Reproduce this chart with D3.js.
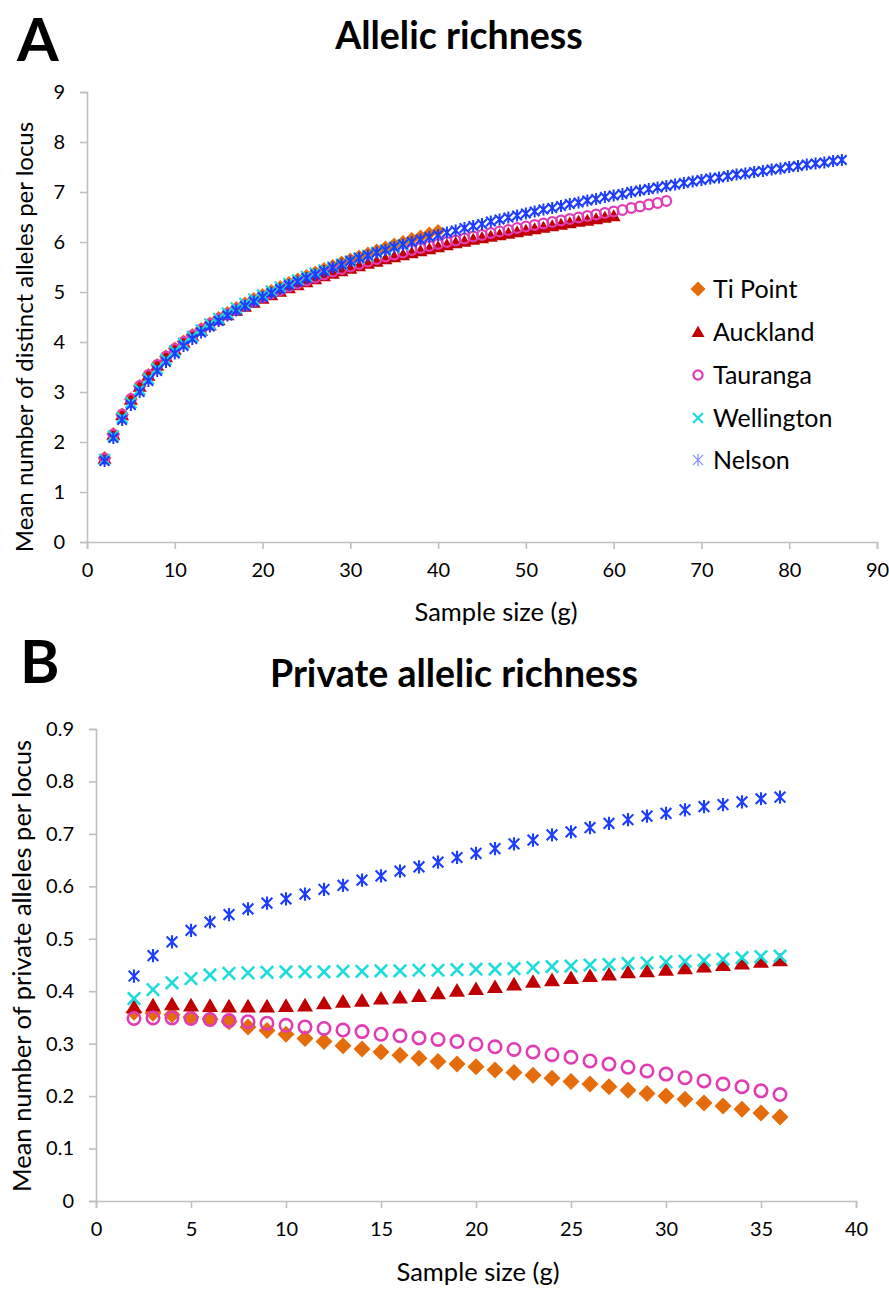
<!DOCTYPE html>
<html>
<head>
<meta charset="utf-8">
<script src="https://cdn.jsdelivr.net/npm/d3@7"></script>
<style>
  body { margin: 0; background: #fff; }
  svg text { font-family: Lato, "Open Sans", sans-serif; fill: #000; }
</style>
</head>
<body>
<svg id="chart" width="889" height="1289"></svg>
<script>
// ---- Populations ----
const seriesNames  = ["Ti Point", "Auckland", "Tauranga", "Wellington", "Nelson"];
const seriesColors = ["#E46C0A", "#C00000", "#E03CB4", "#1EDCDC", "#1C3CFF"];
const seriesShapes = ["diamond", "triangle", "circle", "cross", "star"];

// ---- Panel A: mean number of distinct alleles per locus, sample size g = 2, 3, 4, ... ----
const richTiPoint = [1.68, 2.16, 2.55, 2.86, 3.12, 3.34, 3.54, 3.71, 3.87, 4.01,
  4.14, 4.26, 4.37, 4.48, 4.58, 4.68, 4.77, 4.86, 4.94, 5.02,
  5.10, 5.18, 5.25, 5.32, 5.39, 5.46, 5.52, 5.59, 5.65, 5.71,
  5.77, 5.83, 5.89, 5.95, 6.00, 6.06, 6.11, 6.17, 6.22];
const richAuckland = [1.67, 2.15, 2.54, 2.85, 3.11, 3.33, 3.53, 3.70, 3.85, 3.99,
  4.12, 4.23, 4.34, 4.44, 4.54, 4.63, 4.71, 4.79, 4.87, 4.94,
  5.01, 5.08, 5.14, 5.20, 5.26, 5.32, 5.37, 5.42, 5.47, 5.52,
  5.57, 5.61, 5.66, 5.70, 5.74, 5.78, 5.82, 5.86, 5.90, 5.94,
  5.98, 6.01, 6.05, 6.08, 6.11, 6.14, 6.17, 6.20, 6.23, 6.26,
  6.29, 6.32, 6.35, 6.38, 6.41, 6.43, 6.46, 6.49, 6.52];
const richTauranga = [1.67, 2.15, 2.55, 2.86, 3.12, 3.34, 3.54, 3.71, 3.86, 4.00,
  4.13, 4.25, 4.36, 4.46, 4.56, 4.65, 4.74, 4.82, 4.90, 4.97,
  5.04, 5.11, 5.17, 5.23, 5.29, 5.35, 5.41, 5.46, 5.51, 5.56,
  5.61, 5.66, 5.71, 5.75, 5.79, 5.84, 5.88, 5.92, 5.96, 6.00,
  6.03, 6.07, 6.11, 6.14, 6.18, 6.21, 6.24, 6.28, 6.31, 6.34,
  6.37, 6.40, 6.43, 6.46, 6.49, 6.52, 6.55, 6.58, 6.61, 6.64,
  6.68, 6.71, 6.75, 6.78, 6.82];
const richWellington = [1.65, 2.12, 2.49, 2.79, 3.05, 3.27, 3.47, 3.65, 3.82, 3.97,
  4.11, 4.24, 4.36, 4.47, 4.58, 4.68, 4.77, 4.86, 4.94, 5.02,
  5.10, 5.17, 5.24, 5.31, 5.38, 5.44, 5.50, 5.56, 5.62, 5.68,
  5.73, 5.79, 5.84, 5.89, 5.94];
const richNelson = [1.62, 2.08, 2.44, 2.74, 3.00, 3.22, 3.42, 3.60, 3.77, 3.92,
  4.06, 4.19, 4.31, 4.42, 4.53, 4.63, 4.72, 4.81, 4.90, 4.98,
  5.06, 5.14, 5.21, 5.28, 5.35, 5.42, 5.49, 5.55, 5.62, 5.68,
  5.73, 5.79, 5.84, 5.90, 5.95, 6.00, 6.05, 6.10, 6.14, 6.19,
  6.23, 6.28, 6.32, 6.36, 6.41, 6.45, 6.49, 6.53, 6.57, 6.61,
  6.65, 6.68, 6.72, 6.76, 6.79, 6.83, 6.86, 6.90, 6.93, 6.96,
  7.00, 7.03, 7.06, 7.09, 7.12, 7.15, 7.18, 7.21, 7.24, 7.27,
  7.29, 7.32, 7.35, 7.37, 7.40, 7.42, 7.45, 7.47, 7.50, 7.52,
  7.55, 7.57, 7.59, 7.62, 7.64];

// ---- Panel B: mean number of private alleles per locus, g = 2 .. 36 ----
const privTiPoint = [0.360, 0.358, 0.355, 0.351, 0.347, 0.342, 0.332, 0.325, 0.318, 0.310,
  0.304, 0.296, 0.290, 0.284, 0.278, 0.272, 0.266, 0.261, 0.256, 0.250,
  0.245, 0.240, 0.234, 0.228, 0.223, 0.218, 0.211, 0.205, 0.200, 0.194,
  0.187, 0.181, 0.175, 0.168, 0.160];
const privAuckland = [0.370, 0.373, 0.375, 0.373, 0.372, 0.371, 0.371, 0.371, 0.372, 0.373,
  0.377, 0.380, 0.382, 0.386, 0.388, 0.391, 0.396, 0.401, 0.404, 0.408,
  0.413, 0.418, 0.421, 0.425, 0.429, 0.432, 0.436, 0.438, 0.441, 0.444,
  0.447, 0.450, 0.453, 0.456, 0.459];
const privTauranga = [0.348, 0.349, 0.349, 0.348, 0.346, 0.344, 0.342, 0.339, 0.335, 0.332,
  0.329, 0.326, 0.323, 0.318, 0.315, 0.311, 0.308, 0.304, 0.299, 0.294,
  0.289, 0.284, 0.279, 0.274, 0.267, 0.261, 0.255, 0.248, 0.242, 0.235,
  0.229, 0.223, 0.218, 0.210, 0.203];
const privWellington = [0.386, 0.403, 0.416, 0.424, 0.431, 0.434, 0.435, 0.436, 0.437, 0.437,
  0.437, 0.438, 0.438, 0.439, 0.439, 0.440, 0.440, 0.441, 0.442, 0.442,
  0.443, 0.445, 0.447, 0.448, 0.450, 0.451, 0.453, 0.454, 0.456, 0.457,
  0.459, 0.461, 0.464, 0.466, 0.467];
const privNelson = [0.429, 0.468, 0.494, 0.516, 0.532, 0.546, 0.557, 0.568, 0.576, 0.585,
  0.594, 0.602, 0.612, 0.620, 0.629, 0.637, 0.646, 0.655, 0.663, 0.672,
  0.681, 0.688, 0.698, 0.704, 0.712, 0.720, 0.727, 0.734, 0.739, 0.746,
  0.752, 0.756, 0.761, 0.767, 0.770];

const firstSampleSize = 2;

// ---- Axis ticks ----
const ticksAx = [0, 10, 20, 30, 40, 50, 60, 70, 80, 90];
const ticksAy = [0, 1, 2, 3, 4, 5, 6, 7, 8, 9];
const ticksBx = [0, 5, 10, 15, 20, 25, 30, 35, 40];
const ticksBy = [0, 0.1, 0.2, 0.3, 0.4, 0.5, 0.6, 0.7, 0.8, 0.9];

const richSeries = [richTiPoint, richAuckland, richTauranga, richWellington, richNelson];
const privSeries = [privTiPoint, privAuckland, privTauranga, privWellington, privNelson];

const svg = d3.select("#chart");
const axisGrey = "#BFBFBF";

// Marker drawing: shape sized by half-width s, stroke width sw
function drawMarker(sel, shape, color, s, sw) {
  if (shape === "circle") {
    sel.append("circle").attr("r", s).attr("fill", "none")
      .attr("stroke", color).attr("stroke-width", sw);
  } else if (shape === "diamond") {
    const p = d3.path();
    p.moveTo(0, -s); p.lineTo(s, 0); p.lineTo(0, s); p.lineTo(-s, 0); p.closePath();
    sel.append("path").attr("d", p.toString()).attr("fill", color);
  } else if (shape === "triangle") {
    const p = d3.path();
    p.moveTo(0, -s * 0.95); p.lineTo(s, s * 0.75); p.lineTo(-s, s * 0.75); p.closePath();
    sel.append("path").attr("d", p.toString()).attr("fill", color);
  } else if (shape === "cross") {
    const p = d3.path();
    p.moveTo(-s, -s); p.lineTo(s, s); p.moveTo(s, -s); p.lineTo(-s, s);
    sel.append("path").attr("d", p.toString()).attr("fill", "none")
      .attr("stroke", color).attr("stroke-width", sw);
  } else if (shape === "star") {
    const p = d3.path();
    const d = s * 0.85;
    p.moveTo(-d, -d); p.lineTo(d, d); p.moveTo(d, -d); p.lineTo(-d, d);
    p.moveTo(0, -s * 1.05); p.lineTo(0, s * 1.05);
    sel.append("path").attr("d", p.toString()).attr("fill", "none")
      .attr("stroke", color).attr("stroke-width", sw);
  }
}

function styleAxis(g) {
  g.selectAll(".domain").attr("stroke", axisGrey).attr("stroke-width", 1.6);
  g.selectAll(".tick line").attr("stroke", axisGrey).attr("stroke-width", 1.6);
}

function drawPanel(cfg) {
  const x = d3.scaleLinear().domain(cfg.xDomain).range(cfg.xRange);
  const y = d3.scaleLinear().domain(cfg.yDomain).range(cfg.yRange);

  const gx = svg.append("g").attr("transform", `translate(0,${cfg.yRange[0]})`)
    .call(d3.axisBottom(x).tickValues(cfg.xTicks).tickSize(7).tickPadding(cfg.xPad)
      .tickFormat(d3.format("d")));
  gx.selectAll("text").attr("font-size", cfg.tickFont).attr("font-family", "Lato, sans-serif");
  styleAxis(gx);

  const gy = svg.append("g").attr("transform", `translate(${cfg.xRange[0]},0)`)
    .call(d3.axisLeft(y).tickValues(cfg.yTicks).tickSize(7).tickPadding(cfg.yPad)
      .tickFormat(cfg.yFormat));
  gy.selectAll("text").attr("font-size", cfg.tickFont).attr("font-family", "Lato, sans-serif");
  styleAxis(gy);

  // Points, later series drawn on top
  cfg.series.forEach((vals, si) => {
    const pts = vals.map((v, i) => ({ g: firstSampleSize + i, v }));
    svg.append("g").selectAll("g").data(pts).join("g")
      .attr("transform", d => `translate(${x(d.g)},${y(d.v)})`)
      .each(function () {
        const m = cfg.marker[si];
        drawMarker(d3.select(this), seriesShapes[si], seriesColors[si], m[0], m[1]);
      });
  });

  // Axis titles
  svg.append("text").attr("x", cfg.xTitlePos[0]).attr("y", cfg.xTitlePos[1])
    .attr("text-anchor", "middle").attr("font-size", cfg.xTitleFont).text("Sample size (g)");
  svg.append("text")
    .attr("transform", `translate(${cfg.yTitlePos[0]},${cfg.yTitlePos[1]}) rotate(-90)`)
    .attr("text-anchor", "middle").attr("font-size", cfg.yTitleFont).text(cfg.yTitle);

  // Panel heading and letter
  svg.append("text").attr("x", cfg.headPos[0]).attr("y", cfg.headPos[1])
    .attr("text-anchor", "middle").attr("font-size", cfg.headFont).attr("font-weight", 700)
    .text(cfg.heading);
  svg.append("text").attr("x", cfg.letterPos[0]).attr("y", cfg.letterPos[1])
    .attr("font-family", "'Liberation Sans', Arial, sans-serif")
    .attr("font-size", 60).attr("font-weight", 700).text(cfg.letter);

  return { x, y };
}

drawPanel({
  xDomain: [0, 90], xRange: [87, 877],
  yDomain: [0, 9], yRange: [542, 92],
  xTicks: ticksAx, yTicks: ticksAy, yFormat: d3.format("d"),
  xPad: 14, yPad: 15, tickFont: 20,
  series: richSeries,
  marker: [[7, 0], [7, 0], [4.8, 2.2], [5.5, 2.2], [5.6, 2]],
  xTitlePos: [496, 621], xTitleFont: 25.5,
  yTitlePos: [33, 337], yTitleFont: 24,
  yTitle: "Mean number of distinct alleles per locus",
  heading: "Allelic richness", headPos: [459, 49], headFont: 37.5,
  letter: "A", letterPos: [17, 61]
});

drawPanel({
  xDomain: [0, 40], xRange: [96, 856],
  yDomain: [0, 0.9], yRange: [1201, 729],
  xTicks: ticksBx, yTicks: ticksBy, yFormat: d => d === 0 ? "0" : d3.format(".1f")(d),
  xPad: 14, yPad: 15, tickFont: 20,
  series: privSeries,
  marker: [[8.5, 0], [8, 0], [6.2, 2.6], [6.2, 2.6], [6.3, 2.1]],
  xTitlePos: [478, 1281], xTitleFont: 25.5,
  yTitlePos: [31, 966], yTitleFont: 25.5,
  yTitle: "Mean number of private alleles per locus",
  heading: "Private allelic richness", headPos: [454, 687], headFont: 37.5,
  letter: "B", letterPos: [20, 683]
});

// Legend for panel A
const legend = svg.append("g");
const legendY = [289, 332, 375, 418, 460];
const legendMarker = [[7.5, 0], [6.5, 0], [4.6, 2.2], [5, 2.2], [6, 1.1]];
seriesNames.forEach((name, i) => {
  const row = legend.append("g").attr("transform", `translate(698,${legendY[i]})`);
  const m = legendMarker[i];
  drawMarker(row, seriesShapes[i], i === 4 ? "#7B8BFF" : seriesColors[i], m[0], m[1]);
  row.append("text").attr("x", 15).attr("y", 0).attr("dy", "0.36em")
    .attr("font-size", 25).text(name);
});
</script>
</body>
</html>
